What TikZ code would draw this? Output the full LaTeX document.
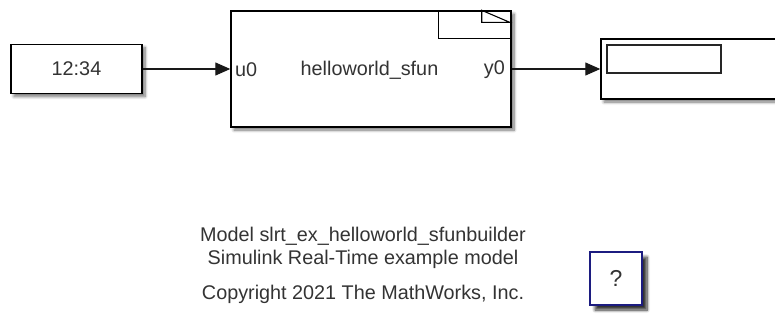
\documentclass[tikz,border=0pt]{standalone}
\usepackage{fontspec}
\setmainfont{Liberation Sans}
\usepackage{xcolor}
\usetikzlibrary{arrows.meta,positioning,shadows.blur}
\definecolor{helpnavy}{RGB}{28,28,128}
\newcommand{\simfont}{\fontsize{19.8}{23}\selectfont}

\begin{document}
\begin{tikzpicture}[
  x=1pt, y=-1pt,
  >={Triangle[length=15pt,width=13pt]},
  blk/.style={draw=black, line width=1.4pt, fill=white, inner sep=0pt,
    blur shadow={shadow xshift=3pt, shadow yshift=-3pt, shadow blur steps=8, shadow blur radius=3pt, shadow opacity=55}},
  lbl/.style={font=\simfont, text=black!80, inner sep=0pt},
  arr/.style={->, line width=1.2pt, draw=black!90}
]
\useasboundingbox (0,0) rectangle (775,325);
\node[blk, lbl, draw=black, minimum width=131pt, minimum height=49pt] (clock) at (76.5,69) {12:34};
\node[blk, minimum width=280pt, minimum height=116pt] (sfun) at (371,69) {};
\node[lbl, anchor=west] (inport) at (235,70) {u0};
\node[lbl] (sfunname) at (369.5,70) {helloworld\_sfun};
\node[lbl, anchor=east] (outport) at (505,70) {y0};
\draw[line width=1.2pt] (sfun.north east) ++(-73,0) |- ++(73,28);
\draw[line width=1.1pt, line join=miter] (sfun.north east) ++(-30,0) -- ++(0,12) -- ++(28,0) -- cycle;
\node[blk, minimum width=200pt, minimum height=60pt] (disp) at (701,69) {};
\node[draw=black!85, line width=1.6pt, minimum width=114pt, minimum height=28pt, inner sep=0pt] (dispval) at (664,59) {};
\draw[arr] (clock) -- (sfun);
\draw[arr] (sfun) -- (disp);
\node[lbl, align=center] (note) at (363,265) {Model slrt\_ex\_helloworld\_sfunbuilder\\Simulink Real-Time example model\\[12pt]Copyright 2021 The MathWorks, Inc.};
\node[lbl, font=\fontsize{23}{26}\selectfont, draw=helpnavy, line width=1.4pt, fill=white, minimum width=52pt, minimum height=53pt,
  blur shadow={shadow xshift=5pt, shadow yshift=-5pt, shadow blur steps=8, shadow blur radius=3pt, shadow opacity=80}] (help) at (616,278.5) {?};
\end{tikzpicture}
\end{document}
